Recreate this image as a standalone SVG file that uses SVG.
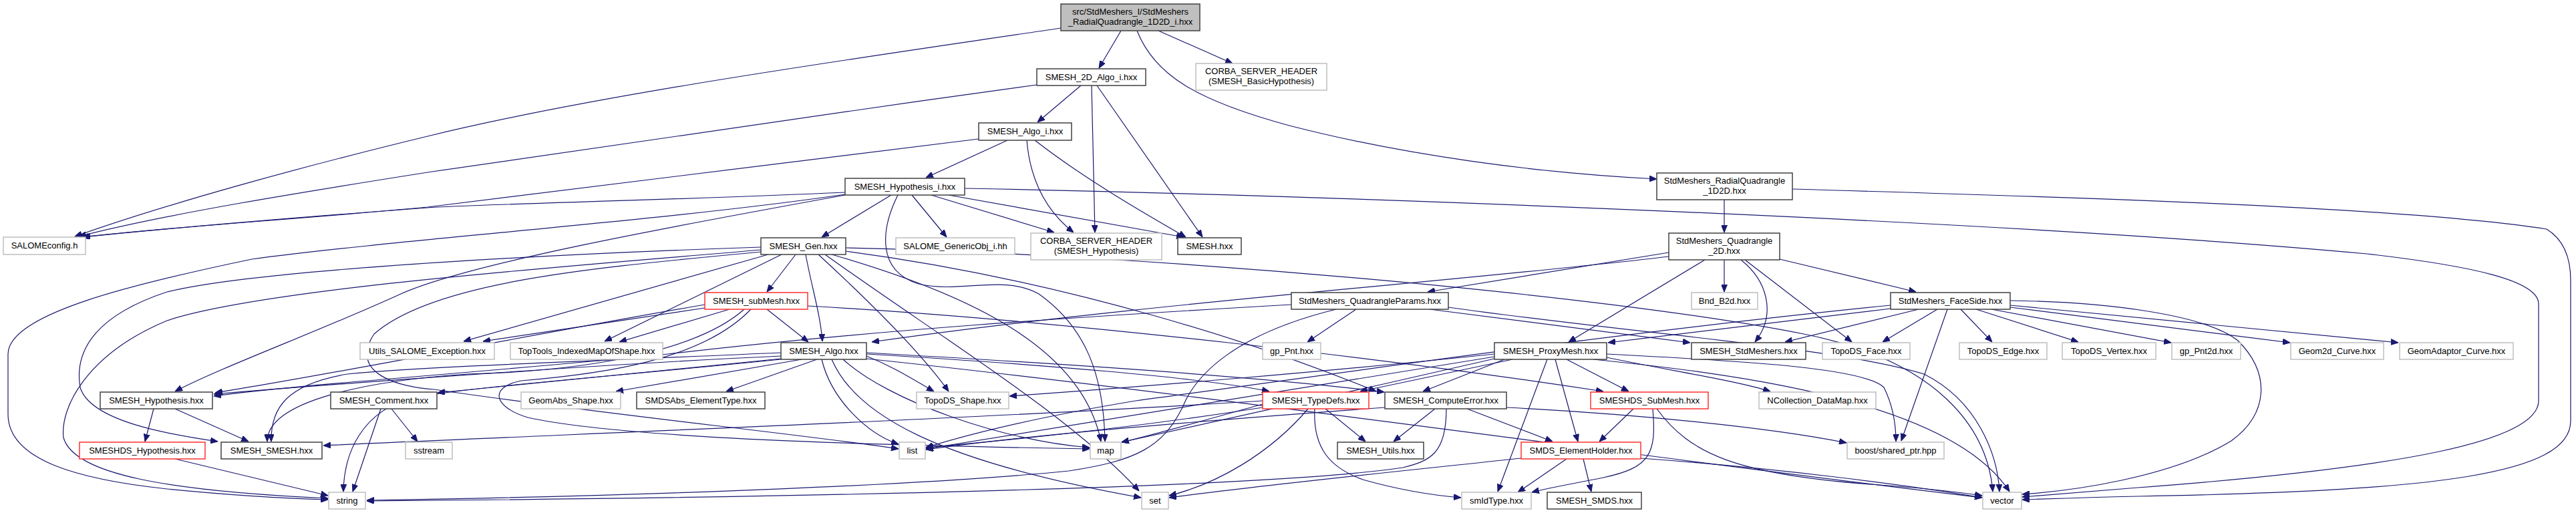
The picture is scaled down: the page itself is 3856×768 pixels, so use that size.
<svg xmlns="http://www.w3.org/2000/svg" width="3856" height="768" viewBox="0 0 3856 768">
<style>
.k rect{fill:#fff;stroke:#404040;stroke-width:1.5}
.g rect{fill:#fff;stroke:#bfbfbf;stroke-width:1.5}
.r rect{fill:#fff;stroke:#ff3030;stroke-width:1.5}
#root rect{fill:#bfbfbf;stroke:#404040;stroke-width:1.5}
text{font-family:"Liberation Sans",Arial,sans-serif;font-size:13px;fill:#000;text-anchor:middle}
#edges path{fill:none;stroke:#191970;stroke-width:1.2;marker-end:url(#a)}
</style>
<defs>
<marker id="a" viewBox="0 0 11 9" refX="11" refY="4.5" markerWidth="11" markerHeight="9" markerUnits="userSpaceOnUse" orient="auto"><path d="M0,0 L11,4.5 L0,9 z" fill="#191970" stroke="#191970" stroke-width="1"/></marker>
</defs>
<rect width="3856" height="768" fill="#fff"/>
<g id="edges">
<path d="M1678,46 L1645,102"/>
<path d="M1734,46 L1845,95"/>
<path d="M1702,46 C1728,112 1790,150 1930,188 C2100,232 2300,259 2480,268"/>
<path d="M1588,42 C1300,85 900,140 640,204 C450,250 250,305 112,354"/>
<path d="M1618,128 L1553,183"/>
<path d="M1634,128 L1639,348"/>
<path d="M1642,128 L1800,355"/>
<path d="M1552,127 C1200,175 800,235 640,258 C450,288 250,320 118,354"/>
<path d="M1508,210 L1386,266"/>
<path d="M1537,210 C1542,270 1565,315 1607,348"/>
<path d="M1549,210 C1620,265 1700,312 1775,355"/>
<path d="M1465,208 C1100,255 800,292 640,310 C450,328 250,340 122,355"/>
<path d="M1334,292 L1230,355"/>
<path d="M1365,292 L1417,355"/>
<path d="M1394,292 L1578,348"/>
<path d="M1420,292 L1772,355"/>
<path d="M1265,288 C1000,300 700,306 640,311 C450,325 250,342 124,355"/>
<path d="M1265,292 C1000,340 700,395 600,440 C480,495 330,550 262,586"/>
<path d="M1265,291 C1000,330 600,358 377,388 C200,425 12,470 12,530 L12,620 C12,690 120,718 250,732 C350,742 420,746 491,748"/>
<path d="M1344,292 C1320,340 1310,405 1375,425 C1440,440 1500,410 1555,440 C1625,490 1652,560 1654,661"/>
<path d="M1444,282 C2000,293 3000,330 3543,380 C3700,398 3800,420 3800,455 L3800,600 C3800,660 3600,700 3200,730 C3110,737 3060,741 3027,744"/>
<path d="M2581,299 L2581,348"/>
<path d="M2683,283 C3100,295 3600,310 3812,343 C3840,360 3848,390 3848,420 L3848,630 C3848,710 3650,735 3200,743 C3110,745 3060,747 3027,748"/>
<path d="M2581,389 L2581,437"/>
<path d="M2606,389 C2645,420 2660,470 2627,512"/>
<path d="M2612,389 L2772,512"/>
<path d="M2664,388 L2868,437"/>
<path d="M2552,389 L2348,512"/>
<path d="M2498,378 L2137,437"/>
<path d="M2498,384 C2200,420 1700,455 1305,512"/>
<path d="M1933,456 C1600,475 1300,495 1000,530 C700,560 450,575 320,593"/>
<path d="M2030,463 L1957,512"/>
<path d="M2140,463 L2530,513"/>
<path d="M2000,463 C1850,500 1790,560 1770,610 C1740,670 1700,690 1600,705 C1400,725 1000,742 549,749"/>
<path d="M2168,460 C2450,500 2750,520 2880,560 C2960,600 2990,680 2993,736"/>
<path d="M2872,463 L2672,512"/>
<path d="M2900,463 L2818,512"/>
<path d="M2935,463 L2982,512"/>
<path d="M2958,463 L3111,512"/>
<path d="M2981,463 L3250,513"/>
<path d="M3009,460 L3428,513"/>
<path d="M3009,457 L3590,513"/>
<path d="M2915,463 L2846,660"/>
<path d="M3009,450 C3150,452 3300,470 3350,510 C3400,560 3395,620 3340,660 C3250,715 3100,735 3027,740"/>
<path d="M2830,462 L2407,513"/>
<path d="M2830,457 C2400,500 2000,560 1700,600 C1550,625 1450,650 1386,670"/>
<path d="M2345,538 L2438,586"/>
<path d="M2328,538 L2362,661"/>
<path d="M2316,538 L2242,736"/>
<path d="M2264,538 L2036,586"/>
<path d="M2252,538 L2130,586"/>
<path d="M2237,530 C2000,555 1700,580 1511,593"/>
<path d="M2237,534 C2000,570 1700,620 1386,672"/>
<path d="M2237,537 C2050,580 1850,625 1679,662"/>
<path d="M2405,535 C2500,555 2600,570 2650,586"/>
<path d="M2405,530 C2600,540 2790,550 2820,580 C2835,610 2838,640 2838,661"/>
<path d="M2385,538 C2600,560 2920,600 3008,736"/>
<path d="M1984,612 L2044,661"/>
<path d="M1968,612 C1965,670 1990,700 2040,718 C2100,735 2150,742 2187,745"/>
<path d="M1958,612 C1900,680 1820,725 1750,742"/>
<path d="M1890,605 C1800,630 1730,650 1679,662"/>
<path d="M1890,610 C1700,640 1500,660 1386,670"/>
<path d="M1890,600 C1500,625 900,648 484,667"/>
<path d="M2148,612 L2086,661"/>
<path d="M2196,612 L2324,661"/>
<path d="M2165,612 C2165,680 2140,690 2100,700 C1900,730 1200,745 549,750"/>
<path d="M2073,610 C1800,630 1550,650 1386,673"/>
<path d="M2255,610 C2450,620 2650,640 2764,663"/>
<path d="M2445,612 L2394,661"/>
<path d="M2474,612 C2480,680 2470,700 2400,715 C2350,725 2320,730 2293,737"/>
<path d="M2480,612 C2530,680 2600,710 2800,725 C2900,732 2940,738 2967,742"/>
<path d="M2345,687 L2272,737"/>
<path d="M2370,687 L2382,736"/>
<path d="M2456,686 C2650,700 2850,725 2967,745"/>
<path d="M2277,686 C2100,705 1900,725 1750,745"/>
<path d="M1169,533 C900,545 500,575 320,590"/>
<path d="M1169,528 C900,540 650,548 520,560 C430,575 405,610 406,661"/>
<path d="M1169,537 C1000,555 800,572 655,588"/>
<path d="M1200,538 L922,586"/>
<path d="M1223,538 L1087,586"/>
<path d="M1297,533 C1340,550 1370,570 1398,586"/>
<path d="M1297,528 C1600,545 1900,565 2072,587"/>
<path d="M1297,530 C1550,545 1800,565 1900,586"/>
<path d="M1230,538 C1245,600 1300,650 1345,665"/>
<path d="M1262,538 C1330,600 1500,660 1631,670"/>
<path d="M1245,538 C1280,620 1400,690 1708,745"/>
<path d="M1169,538 C900,565 700,580 620,595 C540,615 515,680 514,736"/>
<path d="M1297,537 C1800,590 2500,690 2967,745"/>
<path d="M1055,461 L723,511"/>
<path d="M1092,463 L927,512"/>
<path d="M1148,463 L1210,512"/>
<path d="M1114,463 C1050,520 900,555 700,560 C550,570 400,600 400,661"/>
<path d="M1055,456 C800,500 500,560 322,588"/>
<path d="M1124,463 C1050,540 900,560 780,570 C730,580 740,610 790,625 C950,660 1400,668 1631,672"/>
<path d="M1209,458 C1600,480 2100,540 2400,586"/>
<path d="M1191,381 L1148,437"/>
<path d="M1150,381 L694,511"/>
<path d="M1170,381 L905,511"/>
<path d="M1206,381 C1215,430 1228,470 1231,511"/>
<path d="M1139,370 C900,378 400,400 250,437 C150,470 110,520 120,580 C135,630 250,650 326,661"/>
<path d="M1139,374 C900,395 400,430 250,480 C130,530 90,610 95,655 C110,710 250,735 491,746"/>
<path d="M1139,377 C900,400 650,420 560,500 C520,560 600,580 650,583 C900,620 1200,650 1345,672"/>
<path d="M1225,381 C1300,450 1380,530 1420,586"/>
<path d="M1245,381 C1450,440 1620,520 1648,661"/>
<path d="M1235,381 C1400,500 1600,620 1705,735"/>
<path d="M1266,376 C1600,420 1900,520 2060,586"/>
<path d="M1266,371 C1700,380 2400,440 2700,500 C2900,540 2975,640 2983,736"/>
<path d="M230,612 L217,661"/>
<path d="M262,612 L372,661"/>
<path d="M262,687 L491,742"/>
<path d="M570,612 L528,736"/>
<path d="M586,612 L625,661"/>
</g>
<g id="root"><rect x="1588" y="6" width="208" height="40"/><text x="1692" y="22">src/StdMeshers_I/StdMeshers</text><text x="1692" y="37">_RadialQuadrangle_1D2D_i.hxx</text></g>
<g id="n2dalgo" class="k"><rect x="1552" y="103" width="163" height="25"/><text x="1633.5" y="120">SMESH_2D_Algo_i.hxx</text></g>
<g id="corbaBasic" class="g"><rect x="1790" y="95" width="196" height="40"/><text x="1888" y="111">CORBA_SERVER_HEADER</text><text x="1888" y="126">(SMESH_BasicHypothesis)</text></g>
<g id="algoi" class="k"><rect x="1465" y="184" width="139" height="26"/><text x="1534.5" y="201">SMESH_Algo_i.hxx</text></g>
<g id="hypi" class="k"><rect x="1265" y="267" width="179" height="25"/><text x="1354.5" y="284">SMESH_Hypothesis_i.hxx</text></g>
<g id="radial" class="k"><rect x="2480" y="259" width="203" height="40"/><text x="2581.5" y="275">StdMeshers_RadialQuadrangle</text><text x="2581.5" y="290">_1D2D.hxx</text></g>
<g id="salomecfg" class="g"><rect x="5" y="355" width="123" height="26"/><text x="66.5" y="372">SALOMEconfig.h</text></g>
<g id="gen" class="k"><rect x="1139" y="356" width="127" height="25"/><text x="1202.5" y="373">SMESH_Gen.hxx</text></g>
<g id="genobj" class="g"><rect x="1341" y="356" width="178" height="25"/><text x="1430" y="373">SALOME_GenericObj_i.hh</text></g>
<g id="corbaHyp" class="g"><rect x="1543" y="349" width="196" height="40"/><text x="1641" y="365">CORBA_SERVER_HEADER</text><text x="1641" y="380">(SMESH_Hypothesis)</text></g>
<g id="smesh" class="k"><rect x="1763" y="356" width="95" height="25"/><text x="1810.5" y="373">SMESH.hxx</text></g>
<g id="quad2d" class="k"><rect x="2498" y="349" width="166" height="40"/><text x="2581" y="365">StdMeshers_Quadrangle</text><text x="2581" y="380">_2D.hxx</text></g>
<g id="submesh" class="r"><rect x="1055" y="438" width="154" height="25"/><text x="1132" y="455">SMESH_subMesh.hxx</text></g>
<g id="qparams" class="k"><rect x="1933" y="438" width="235" height="25"/><text x="2050.5" y="455">StdMeshers_QuadrangleParams.hxx</text></g>
<g id="bnd" class="g"><rect x="2532" y="438" width="99" height="25"/><text x="2581.5" y="455">Bnd_B2d.hxx</text></g>
<g id="faceside" class="k"><rect x="2830" y="438" width="179" height="25"/><text x="2919.5" y="455">StdMeshers_FaceSide.hxx</text></g>
<g id="utils" class="g"><rect x="539" y="513" width="201" height="25"/><text x="639.5" y="530">Utils_SALOME_Exception.hxx</text></g>
<g id="toptools" class="g"><rect x="764" y="513" width="228" height="25"/><text x="878" y="530">TopTools_IndexedMapOfShape.hxx</text></g>
<g id="algo" class="k"><rect x="1169" y="513" width="128" height="25"/><text x="1233" y="530">SMESH_Algo.hxx</text></g>
<g id="gppnt" class="g"><rect x="1890" y="513" width="87" height="25"/><text x="1933.5" y="530">gp_Pnt.hxx</text></g>
<g id="proxy" class="k"><rect x="2237" y="513" width="168" height="25"/><text x="2321" y="530">SMESH_ProxyMesh.hxx</text></g>
<g id="stdmeshers" class="k"><rect x="2532" y="513" width="171" height="25"/><text x="2617.5" y="530">SMESH_StdMeshers.hxx</text></g>
<g id="topoface" class="g"><rect x="2728" y="513" width="131" height="25"/><text x="2793.5" y="530">TopoDS_Face.hxx</text></g>
<g id="topoedge" class="g"><rect x="2933" y="513" width="131" height="25"/><text x="2998.5" y="530">TopoDS_Edge.hxx</text></g>
<g id="topovertex" class="g"><rect x="3087" y="513" width="140" height="25"/><text x="3157" y="530">TopoDS_Vertex.hxx</text></g>
<g id="gppnt2d" class="g"><rect x="3251" y="513" width="103" height="25"/><text x="3302.5" y="530">gp_Pnt2d.hxx</text></g>
<g id="geom2d" class="g"><rect x="3429" y="513" width="139" height="25"/><text x="3498.5" y="530">Geom2d_Curve.hxx</text></g>
<g id="geomadaptor" class="g"><rect x="3592" y="513" width="170" height="25"/><text x="3677" y="530">GeomAdaptor_Curve.hxx</text></g>
<g id="hyp" class="k"><rect x="150" y="587" width="168" height="25"/><text x="234" y="604">SMESH_Hypothesis.hxx</text></g>
<g id="comment" class="k"><rect x="495" y="587" width="159" height="25"/><text x="574.5" y="604">SMESH_Comment.hxx</text></g>
<g id="geomabs" class="g"><rect x="780" y="587" width="149" height="25"/><text x="854.5" y="604">GeomAbs_Shape.hxx</text></g>
<g id="smdsabs" class="k"><rect x="953" y="587" width="192" height="25"/><text x="1049" y="604">SMDSAbs_ElementType.hxx</text></g>
<g id="topods" class="g"><rect x="1372" y="587" width="138" height="25"/><text x="1441" y="604">TopoDS_Shape.hxx</text></g>
<g id="typedefs" class="r"><rect x="1890" y="587" width="159" height="25"/><text x="1969.5" y="604">SMESH_TypeDefs.hxx</text></g>
<g id="computeerr" class="k"><rect x="2073" y="587" width="182" height="25"/><text x="2164" y="604">SMESH_ComputeError.hxx</text></g>
<g id="dssubmesh" class="r"><rect x="2381" y="587" width="176" height="25"/><text x="2469" y="604">SMESHDS_SubMesh.hxx</text></g>
<g id="ncoll" class="g"><rect x="2633" y="587" width="175" height="25"/><text x="2720.5" y="604">NCollection_DataMap.hxx</text></g>
<g id="dshyp" class="r"><rect x="119" y="662" width="188" height="25"/><text x="213" y="679">SMESHDS_Hypothesis.hxx</text></g>
<g id="smeshsmesh" class="k"><rect x="331" y="662" width="151" height="25"/><text x="406.5" y="679">SMESH_SMESH.hxx</text></g>
<g id="sstream" class="g"><rect x="607" y="662" width="70" height="25"/><text x="642" y="679">sstream</text></g>
<g id="list" class="g"><rect x="1346" y="662" width="39" height="25"/><text x="1365.5" y="679">list</text></g>
<g id="map" class="g"><rect x="1632" y="662" width="46" height="25"/><text x="1655" y="679">map</text></g>
<g id="utilshxx" class="k"><rect x="2002" y="662" width="129" height="25"/><text x="2066.5" y="679">SMESH_Utils.hxx</text></g>
<g id="elemholder" class="r"><rect x="2277" y="662" width="179" height="25"/><text x="2366.5" y="679">SMDS_ElementHolder.hxx</text></g>
<g id="boost" class="g"><rect x="2765" y="662" width="145" height="25"/><text x="2837.5" y="679">boost/shared_ptr.hpp</text></g>
<g id="string" class="g"><rect x="492" y="737" width="55" height="25"/><text x="519.5" y="754">string</text></g>
<g id="set" class="g"><rect x="1709" y="737" width="40" height="25"/><text x="1729" y="754">set</text></g>
<g id="smidtype" class="g"><rect x="2188" y="737" width="104" height="25"/><text x="2240" y="754">smIdType.hxx</text></g>
<g id="smeshsmds" class="k"><rect x="2316" y="737" width="141" height="25"/><text x="2386.5" y="754">SMESH_SMDS.hxx</text></g>
<g id="vector" class="g"><rect x="2968" y="737" width="58" height="25"/><text x="2997" y="754">vector</text></g>
</svg>
